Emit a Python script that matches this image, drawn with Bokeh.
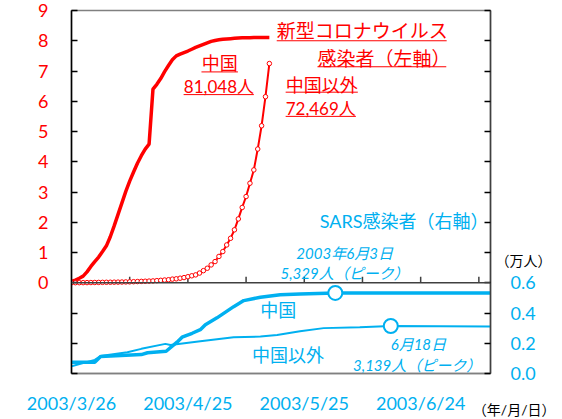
from bokeh.plotting import figure
from bokeh.models import Range1d, LinearAxis, FixedTicker, Span, Label, Title
from bokeh.embed import file_html
from bokeh.resources import INLINE

RED = "#FF0000"
BLUE = "#00B0F0"
FONT = "Lato, 'Noto Sans CJK JP'"

# ---- COVID-19 cumulative confirmed cases (10k persons), day index ----
covid_days = list(range(52))
covid_china = [0.04, 0.09, 0.15, 0.22, 0.36, 0.54, 0.70, 0.85, 1.03, 1.22,
               1.52, 1.88, 2.26, 2.64, 3.02, 3.36, 3.66, 3.95, 4.20, 4.42,
               4.58, 6.40, 6.56, 6.75, 6.98, 7.18, 7.37, 7.50, 7.56, 7.61,
               7.66, 7.72, 7.78, 7.83, 7.88, 7.93, 7.98, 8.01, 8.03, 8.05,
               8.06, 8.07, 8.08, 8.09, 8.10, 8.10, 8.10, 8.105, 8.105, 8.105,
               8.105, 8.1048]
covid_other = [0.001, 0.002, 0.003, 0.004, 0.005, 0.007, 0.009, 0.011, 0.013, 0.015,
               0.017, 0.019, 0.021, 0.024, 0.027, 0.03, 0.035, 0.04, 0.045, 0.05,
               0.055, 0.06, 0.07, 0.08, 0.09, 0.10, 0.12, 0.13, 0.15, 0.17,
               0.20, 0.23, 0.26, 0.32, 0.40, 0.48, 0.59, 0.70, 0.87, 1.03,
               1.25, 1.47, 1.75, 2.11, 2.49, 2.85, 3.29, 3.73, 4.42, 5.19,
               6.15, 7.2469]

# ---- SARS cumulative cases (10k persons), day index from 2003/3/26 ----
sars_china_day = [0, 6, 7.5, 18, 19.6, 24.4, 27.2, 28.5, 31.1, 33.2, 34.5,
                  37.5, 41.8, 44.4, 48.7, 53.8, 58.9, 68, 108]
sars_china = [0.075, 0.075, 0.112, 0.125, 0.137, 0.147, 0.207, 0.24, 0.266, 0.29, 0.323,
              0.368, 0.442, 0.482, 0.504, 0.52, 0.525, 0.5329, 0.532]
sars_other_day = [0, 6, 7.5, 14.4, 18, 24.2, 25.5, 33.2, 41.8, 48.7, 53,
                  58.9, 65, 74.3, 82.3, 108]
sars_other = [0.048, 0.09, 0.115, 0.14, 0.163, 0.196, 0.188, 0.213, 0.24, 0.244, 0.255,
              0.28, 0.30, 0.306, 0.3139, 0.31]
peak_day = [68, 82.3]
peak_val = [0.5329, 0.3139]

x_tick_days = [0, 30, 60, 90]
x_tick_labels = ["2003/3/26", "2003/4/25", "2003/5/25", "2003/6/24"]
mid_tick_days = [15, 30, 45, 60, 75, 90, 105]
left_ticks = [-3, -2, -1, 0, 1, 2, 3, 4, 5, 6, 7, 8, 9]
right_ticks = [0, 0.2, 0.4, 0.6, 0.8, 1.0, 1.2, 1.4, 1.6, 1.8, 2.0, 2.2, 2.4]
right_tick_labels = ["0.0", "0.2", "0.4", "0.6"]
unit_tick = [0.75]

p = figure(width=562, height=419, x_range=Range1d(0, 108), y_range=Range1d(-3, 9),
           output_backend="svg", toolbar_location=None,
           min_border_left=71, min_border_right=72, min_border_top=10, min_border_bottom=46)
p.xgrid.visible = False
p.ygrid.visible = False
p.outline_line_color = "#808080"
p.outline_line_width = 1.5
p.background_fill_color = "white"
p.border_fill_color = "white"

# bottom axis
xa = p.xaxis[0]
xa.ticker = FixedTicker(ticks=x_tick_days)
xa.major_label_overrides = {d: t for d, t in zip(x_tick_days, x_tick_labels)}
xa.major_tick_in = 0
xa.major_tick_out = 0
xa.minor_tick_line_color = None
xa.axis_line_color = "#808080"
xa.axis_line_width = 1.5
xa.major_label_text_color = BLUE
xa.major_label_text_font = "Lato"
xa.major_label_text_font_size = "18px"
xa.major_label_standoff = 18

# left axis
ya = p.yaxis[0]
ya.ticker = FixedTicker(ticks=left_ticks)
ya.major_label_overrides = {t: (str(t) if t >= 0 else "") for t in left_ticks}
ya.major_tick_in = 6
ya.major_tick_out = 0
ya.minor_tick_line_color = None
ya.axis_line_color = "black"
ya.axis_line_width = 1.5
ya.major_tick_line_width = 1.5
ya.major_label_text_color = RED
ya.major_label_text_font = "Lato"
ya.major_label_text_font_size = "18px"
ya.major_label_standoff = 23

# right axis (SARS)
p.extra_y_ranges = {"sars": Range1d(0, 2.4)}
ra = LinearAxis(y_range_name="sars")
ra.ticker = FixedTicker(ticks=right_ticks)
ra.major_label_overrides = {t: (right_tick_labels[i] if i < len(right_tick_labels) else "")
                            for i, t in enumerate(right_ticks)}
ra.major_tick_in = 6
ra.major_tick_out = 0
ra.minor_tick_line_color = None
ra.axis_line_color = "#404040"
ra.axis_line_width = 1.5
ra.major_tick_line_width = 1.5
ra.major_label_text_color = BLUE
ra.major_label_text_font = "Lato"
ra.major_label_text_font_size = "18px"
ra.major_label_standoff = 20
p.add_layout(ra, "right")

# unit label of the right axis
ua = LinearAxis(y_range_name="sars")
ua.ticker = FixedTicker(ticks=unit_tick)
ua.major_label_overrides = {unit_tick[0]: "（万人）"}
ua.axis_line_color = None
ua.major_tick_line_color = None
ua.minor_tick_line_color = None
ua.major_tick_in = 0
ua.major_tick_out = 0
ua.major_label_standoff = -43
ua.major_label_text_color = "black"
ua.major_label_text_font = FONT
ua.major_label_text_font_size = "14px"
p.add_layout(ua, "right")

# unit label of the date axis
p.add_layout(Title(text="（年/月/日）", align="right", offset=-65, standoff=-31,
                   vertical_align="top", text_font=FONT, text_font_size="14px",
                   text_font_style="normal", text_color="black"), "below")

# divider line between panels with its ticks
p.add_layout(Span(location=0, dimension="width", line_color="#404040", line_width=1.5))
p.segment(x0=mid_tick_days, y0=[0] * len(mid_tick_days), x1=mid_tick_days,
          y1=[0.2] * len(mid_tick_days), line_color="#404040", line_width=1.5)

# COVID lines
p.line(covid_days, covid_china, line_color=RED, line_width=3.5)
p.line(covid_days, covid_other, line_color=RED, line_width=2)
p.scatter(covid_days, covid_other, marker="circle", size=4.5, fill_color="white",
          line_color=RED, line_width=1)

# SARS lines
p.line(sars_china_day, sars_china, y_range_name="sars", line_color=BLUE, line_width=3.5)
p.line(sars_other_day, sars_other, y_range_name="sars", line_color=BLUE, line_width=2)
p.scatter(peak_day, peak_val, y_range_name="sars", marker="circle", size=14,
          fill_color="white", line_color=BLUE, line_width=2)


def lab(x, y, text, color, size, align="left", style="normal"):
    p.add_layout(Label(x=x, y=y, text=text, text_color=color, text_font=FONT,
                       text_font_size=size, text_align=align, text_baseline="middle",
                       text_font_style=style))


# red annotations (underlined)
lab(52.9, 8.33, "新型コロナウイルス", RED, "19px")
lab(97.7, 7.41, "感染者（左軸）", RED, "19px", "right")
lab(38.2, 7.28, "中国", RED, "18px", "center")
lab(38.0, 6.49, "81,048人", RED, "17px", "center")
lab(55.2, 6.55, "中国以外", RED, "18px")
lab(55.2, 5.76, "72,469人", RED, "17px")
ul_x0 = [52.9, 63.4, 33.5, 28.9, 55.2, 55.2]
ul_x1 = [96.7, 96.6, 42.9, 47.0, 73.8, 73.3]
ul_y = [8.00, 7.14, 6.97, 6.22, 6.30, 5.50]
p.segment(x0=ul_x0, y0=ul_y, x1=ul_x1, y1=ul_y, line_color=RED, line_width=1)

# blue annotations
lab(107.5, 2.03, "SARS感染者（右軸）", BLUE, "18px", "right")
lab(70.4, 1.00, "2003年6月3日", BLUE, "15px", "center", "italic")
lab(70.4, 0.33, "5,329人（ピーク）", BLUE, "15px", "center", "italic")
lab(53.3, -0.89, "中国", BLUE, "18px", "center")
lab(55.8, -2.38, "中国以外", BLUE, "18px", "center")
lab(89.4, -2.01, "6月18日", BLUE, "15px", "center", "italic")
lab(89.1, -2.71, "3,139人（ピーク）", BLUE, "15px", "center", "italic")

open("out.html", "w").write(file_html(p, INLINE))
